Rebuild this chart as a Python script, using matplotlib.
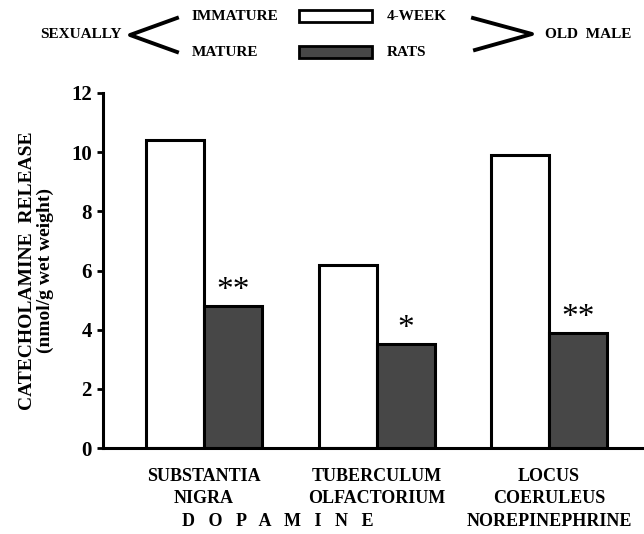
import matplotlib
matplotlib.use("Agg")
import matplotlib.pyplot as plt
from matplotlib.patches import Rectangle
from matplotlib.lines import Line2D
import numpy as np

categories = ["SUBSTANTIA\nNIGRA", "TUBERCULUM\nOLFACTORIUM", "LOCUS\nCOERULEUS\nNOREPINEPHRINE"]
immature = [10.4, 6.2, 9.9]
mature = [4.8, 3.5, 3.9]
stars = ["**", "*", "**"]
yticks = [0, 2, 4, 6, 8, 10, 12]

W, H = 644, 534
plt.rcParams['font.family'] = ['Liberation Serif', 'DejaVu Serif']
fig = plt.figure(figsize=(W / 100, H / 100), dpi=100)

def fx(px):
    return px / W

def fy(py):
    return 1 - py / H

ax = fig.add_axes([fx(103), fy(448), fx(644) - fx(103), fy(93) - fy(448)])
x = np.arange(len(categories))
bw = 0.336
dark = "#474747"
ax.bar(x - bw / 2, immature, bw, color="white", edgecolor="black", linewidth=2.2)
ax.bar(x + bw / 2, mature, bw, color=dark, edgecolor="black", linewidth=2.2)
for xi, v, s in zip(x, mature, stars):
    ax.annotate(s, (xi + bw / 2, v), xytext=(0, 11), textcoords="offset points",
                ha="center", va="center", fontsize=24, fontweight="normal")

ax.set_xlim(-0.585, 2.55)
ax.set_ylim(0, 12)
ax.set_yticks(yticks)
ax.set_yticklabels([str(t) for t in yticks], fontsize=15, fontweight="bold")
ax.set_xticks([])
for sp in ["top", "right"]:
    ax.spines[sp].set_visible(False)
for sp in ["left", "bottom"]:
    ax.spines[sp].set_linewidth(2.2)
ax.tick_params(axis="y", direction="out", length=4, width=2, pad=4)

ax.set_ylabel("CATECHOLAMINE  RELEASE\n(nmol/g wet weight)", fontsize=14,
              fontweight="bold", linespacing=1.1, labelpad=12)

# category labels
for xi, c in zip(x, categories):
    ax.text(xi, -0.68, c, ha="center", va="top", fontsize=13, fontweight="bold",
            linespacing=1.4)
fig.text(fx(278), fy(522), "D   O   P   A   M   I   N   E", ha="center", va="center",
         fontsize=13, fontweight="bold")

# legend header
fig.text(fx(81), fy(34), "SEXUALLY", ha="center", va="center", fontsize=11, fontweight="bold")
fig.add_artist(Line2D([fx(177), fx(130), fx(177)], [fy(18), fy(35), fy(52)],
                      color="black", lw=2.8, transform=fig.transFigure))
fig.text(fx(192), fy(17), "IMMATURE", ha="left", va="center", fontsize=11, fontweight="bold")
fig.text(fx(192), fy(52), "MATURE", ha="left", va="center", fontsize=11, fontweight="bold")
fig.add_artist(Rectangle((fx(299), fy(22)), fx(372) - fx(299), fy(10) - fy(22),
                         facecolor="white", edgecolor="black", lw=2,
                         transform=fig.transFigure))
fig.add_artist(Rectangle((fx(299), fy(58)), fx(372) - fx(299), fy(46) - fy(58),
                         facecolor=dark, edgecolor="black", lw=2,
                         transform=fig.transFigure))
fig.text(fx(387), fy(17), "4-WEEK", ha="left", va="center", fontsize=11, fontweight="bold")
fig.text(fx(387), fy(52), "RATS", ha="left", va="center", fontsize=11, fontweight="bold")
fig.add_artist(Line2D([fx(473), fx(532), fx(475)], [fy(18), fy(34), fy(50)],
                      color="black", lw=2.8, transform=fig.transFigure))
fig.text(fx(545), fy(34), "OLD  MALE", ha="left", va="center", fontsize=11, fontweight="bold")

fig.savefig("out.png", dpi=100)
